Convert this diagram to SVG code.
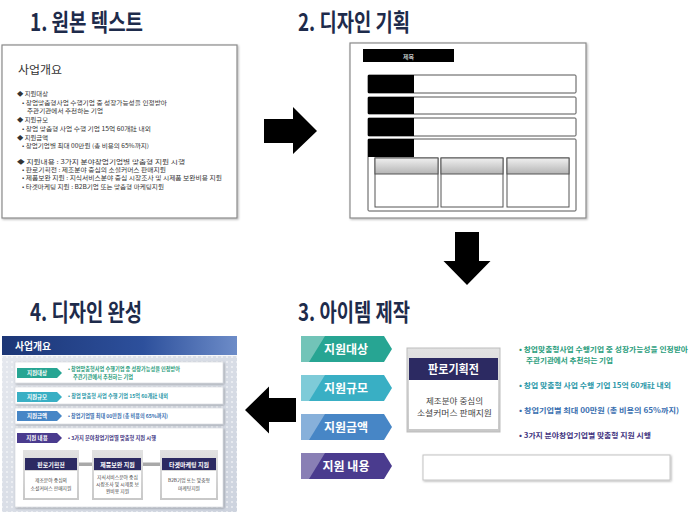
<svg xmlns="http://www.w3.org/2000/svg" width="694" height="512" viewBox="0 0 694 512">
<defs>
<style>
text{font-family:"Noto Sans CJK KR","Noto Sans",sans-serif}
.title{font-size:24px;font-weight:700;fill:#1e2b4b}
.p1{font-size:5.8px;fill:#333}
.frame{fill:#fff;stroke:#8a8a8a;stroke-width:1.2}
.row{fill:#fff;stroke:#555;stroke-width:1}
.blk{fill:#000}
.arrow{fill:#000}
.tagtxt{font-size:12px;font-weight:700;fill:#fff}
.stag{font-size:5.5px;font-weight:700;fill:#fff}
.rt{font-size:7.2px;font-weight:700}
.st{font-size:5.3px;font-weight:700}
.sbody{font-size:4.8px;fill:#444}
.shdr{font-size:6px;font-weight:700;fill:#fff}
.srow{fill:#fff;stroke:#cfd3da;stroke-width:0.6}
.hl{fill:#fff;opacity:0.35}
</style>
<linearGradient id="grayHdr" x1="0" y1="0" x2="0" y2="1"><stop offset="0" stop-color="#f0f0f0"/><stop offset="1" stop-color="#b4b4b4"/></linearGradient>
<linearGradient id="blueHdr" x1="0" y1="0" x2="1" y2="0"><stop offset="0" stop-color="#1c3676"/><stop offset="0.6" stop-color="#2d509c"/><stop offset="1" stop-color="#6d8cc8"/></linearGradient>
<linearGradient id="panelBg" x1="0" y1="0" x2="1" y2="1"><stop offset="0" stop-color="#e6e9ef"/><stop offset="1" stop-color="#cdd3de"/></linearGradient>
<linearGradient id="cardBg" x1="0" y1="0" x2="0" y2="1"><stop offset="0" stop-color="#e2e2e2"/><stop offset="1" stop-color="#c8c8c8"/></linearGradient>
<pattern id="dots" width="5" height="5" patternUnits="userSpaceOnUse"><rect x="1" y="1" width="2" height="2" fill="#fff" opacity="0.45"/></pattern>
<filter id="sh" x="-10%" y="-10%" width="130%" height="130%"><feDropShadow dx="1" dy="1" stdDeviation="1" flood-color="#000" flood-opacity="0.3"/></filter>
<path id="tagBig" d="M0,0 H83 L91,13 L83,26 H0 Z"/>
<path id="tagBigHl" d="M0,0 H24 L8,26 H0 Z"/>
<path id="tagSmall" d="M0,0 H40 L45,5 L40,10 H0 Z"/>
</defs>

<rect width="694" height="512" fill="#fff"/>

<g id="titles">
<text class="title" x="30" y="31" textLength="113" lengthAdjust="spacingAndGlyphs">1. 원본 텍스트</text>
<text class="title" x="298" y="31" textLength="112" lengthAdjust="spacingAndGlyphs">2. 디자인 기획</text>
<text class="title" x="30" y="321" textLength="112" lengthAdjust="spacingAndGlyphs">4. 디자인 완성</text>
<text class="title" x="298" y="321" textLength="112" lengthAdjust="spacingAndGlyphs">3. 아이템 제작</text>
</g>

<g id="original-text">
<rect class="frame" x="2" y="45" width="235" height="173" filter="url(#sh)"/>
<text x="18" y="74" font-size="11" fill="#333" textLength="44" lengthAdjust="spacingAndGlyphs">사업개요</text>
<text class="p1" x="17" y="95.5" textLength="31" lengthAdjust="spacingAndGlyphs">◆ 지원대상</text>
<text class="p1" x="22" y="104.5" textLength="145" lengthAdjust="spacingAndGlyphs">• 창업맞춤형사업 수행기업 중 성장가능성을 인정받아</text>
<text class="p1" x="27" y="113" textLength="76" lengthAdjust="spacingAndGlyphs">주관기관에서 추천하는 기업</text>
<text class="p1" x="17" y="121.5" textLength="31" lengthAdjust="spacingAndGlyphs">◆ 지원규모</text>
<text class="p1" x="22" y="130.5" textLength="129" lengthAdjust="spacingAndGlyphs">• 창업 맞춤형 사업 수행 기업 15억 60개社 내외</text>
<text class="p1" x="17" y="139.5" textLength="31" lengthAdjust="spacingAndGlyphs">◆ 지원금액</text>
<text class="p1" x="22" y="147.5" textLength="127" lengthAdjust="spacingAndGlyphs">• 창업기업별 최대 00만원 (총 비용의 65%까지)</text>
<text class="p1" x="17" y="163.5" textLength="168" lengthAdjust="spacingAndGlyphs">◆ 지원내용 : 3가지 분야창업기업별 맞춤형 지원 시행</text>
<text class="p1" x="22" y="171.5" textLength="144" lengthAdjust="spacingAndGlyphs">• 판로기획전 : 제조분야 중심의 소셜커머스 판매지원</text>
<text class="p1" x="22" y="180" textLength="200" lengthAdjust="spacingAndGlyphs">• 제품보완 지원 : 지식서비스분야 중심 시장조사 및 시제품 보완비용 지원</text>
<text class="p1" x="22" y="189" textLength="142" lengthAdjust="spacingAndGlyphs">• 타겟마케팅 지원 : B2B기업 또는 맞춤형 마케팅지원</text>
</g>

<g id="design-plan">
<rect class="frame" x="350" y="43" width="236" height="175" filter="url(#sh)"/>
<rect class="blk" x="363" y="49" width="91" height="13"/>
<text x="408.5" y="58.5" font-size="6" fill="#fff" text-anchor="middle">제목</text>
<rect class="row" x="368" y="75" width="208" height="18" rx="1"/>
<rect class="blk" x="368" y="75" width="46" height="18"/>
<rect class="row" x="368" y="97" width="208" height="17" rx="1"/>
<rect class="blk" x="368" y="97" width="46" height="17"/>
<rect class="row" x="368" y="118" width="208" height="18" rx="1"/>
<rect class="blk" x="368" y="118" width="46" height="18"/>
<rect class="row" x="368" y="139" width="208" height="72" rx="1"/>
<rect class="blk" x="368" y="139" width="46" height="18"/>
<rect x="375" y="158" width="63" height="49" fill="#fff" stroke="#555"/>
<rect x="375" y="158" width="63" height="16" fill="url(#grayHdr)" stroke="#555"/>
<rect x="441" y="158" width="62" height="49" fill="#fff" stroke="#555"/>
<rect x="441" y="158" width="62" height="16" fill="url(#grayHdr)" stroke="#555"/>
<rect x="507" y="158" width="62" height="49" fill="#fff" stroke="#555"/>
<rect x="507" y="158" width="62" height="16" fill="url(#grayHdr)" stroke="#555"/>
</g>

<g id="items">
<g id="tag1"><use href="#tagBig" x="301" y="336" fill="#27a593"/><use href="#tagBigHl" x="301" y="336" class="hl"/><text class="tagtxt" x="346" y="353.5" text-anchor="middle">지원대상</text></g>
<g id="tag2"><use href="#tagBig" x="301" y="375" fill="#39afc4"/><use href="#tagBigHl" x="301" y="375" class="hl"/><text class="tagtxt" x="346" y="392.5" text-anchor="middle">지원규모</text></g>
<g id="tag3"><use href="#tagBig" x="301" y="414" fill="#4786c6"/><use href="#tagBigHl" x="301" y="414" class="hl"/><text class="tagtxt" x="346" y="431.5" text-anchor="middle">지원금액</text></g>
<g id="tag4"><use href="#tagBig" x="301" y="453" fill="#4a3b8e"/><use href="#tagBigHl" x="301" y="453" class="hl"/><text class="tagtxt" x="346" y="470.5" text-anchor="middle">지원 내용</text></g>
<g id="card">
<rect x="407" y="348" width="93" height="84" fill="url(#cardBg)" stroke="#bdbdbd"/>
<rect x="409" y="358" width="89" height="22" fill="#2c2a62"/>
<text x="453.5" y="373.5" font-size="12" font-weight="700" fill="#fff" text-anchor="middle" textLength="51" lengthAdjust="spacingAndGlyphs">판로기획전</text>
<rect x="409" y="380" width="89" height="49" fill="#fff"/>
<text x="454.5" y="403.5" font-size="8.2" fill="#444" text-anchor="middle" textLength="57" lengthAdjust="spacingAndGlyphs">제조분야 중심의</text>
<text x="454.5" y="416" font-size="8.2" fill="#444" text-anchor="middle" textLength="75" lengthAdjust="spacingAndGlyphs">소셜커머스 판매지원</text>
</g>
<g id="item-texts">
<text class="rt" x="519" y="352" fill="#2a9d7c" textLength="169" lengthAdjust="spacingAndGlyphs">• 창업맞춤형사업 수행기업 중 성장가능성을 인정받아</text>
<text class="rt" x="526" y="363" fill="#2a9d7c" textLength="87" lengthAdjust="spacingAndGlyphs">주관기관에서 추천하는 기업</text>
<text class="rt" x="519" y="387.5" fill="#2a97a8" textLength="152" lengthAdjust="spacingAndGlyphs">• 창업 맞춤형 사업 수행 기업 15억 60개社 내외</text>
<text class="rt" x="519" y="412.5" fill="#3a6fb0" textLength="160" lengthAdjust="spacingAndGlyphs">• 창업기업별 최대 00만원 (총 비용의 65%까지)</text>
<text class="rt" x="519" y="437.5" fill="#43357f" textLength="132" lengthAdjust="spacingAndGlyphs">• 3가지 분야창업기업별 맞춤형 지원 시행</text>
</g>
<rect id="input-box" x="423" y="455" width="247" height="25" fill="#fff" stroke="#c4c4c4" filter="url(#sh)"/>
</g>

<g id="final-design">
<rect x="2" y="336" width="235" height="176" fill="url(#panelBg)"/>
<rect x="2" y="336" width="235" height="176" fill="url(#dots)"/>
<rect x="2" y="336" width="235" height="19" fill="url(#blueHdr)"/>
<rect x="2" y="355" width="235" height="1" fill="#fff" opacity="0.8"/>
<text x="15" y="349.5" font-size="10" font-weight="700" fill="#fff" textLength="36" lengthAdjust="spacingAndGlyphs">사업개요</text>

<rect class="srow" x="15" y="362" width="208" height="21" filter="url(#sh)"/>
<use href="#tagSmall" x="17" y="368" fill="#27a593"/>
<text class="stag" x="37" y="375" text-anchor="middle">지원대상</text>
<text class="st" x="68" y="371" fill="#2a9d7c" textLength="112" lengthAdjust="spacingAndGlyphs">• 창업맞춤형사업 수행기업 중 성장가능성을 인정받아</text>
<text class="st" x="73" y="379" fill="#2a9d7c" textLength="60" lengthAdjust="spacingAndGlyphs">주관기관에서 추천하는 기업</text>

<rect class="srow" x="15" y="387" width="208" height="17" filter="url(#sh)"/>
<use href="#tagSmall" x="17" y="392" fill="#39afc4"/>
<text class="stag" x="37" y="399" text-anchor="middle">지원규모</text>
<text class="st" x="68" y="398" fill="#2a97a8" textLength="100" lengthAdjust="spacingAndGlyphs">• 창업 맞춤형 사업 수행 기업 15억 60개社 내외</text>

<rect class="srow" x="15" y="408" width="208" height="16" filter="url(#sh)"/>
<use href="#tagSmall" x="17" y="411" fill="#4786c6"/>
<text class="stag" x="37" y="418" text-anchor="middle">지원금액</text>
<text class="st" x="68" y="418" fill="#3a6fb0" textLength="100" lengthAdjust="spacingAndGlyphs">• 창업기업별 최대 00만원 (총 비용의 65%까지)</text>

<rect class="srow" x="15" y="428" width="208" height="79" filter="url(#sh)"/>
<use href="#tagSmall" x="17" y="433" fill="#4a3b8e"/>
<text class="stag" x="37" y="440" text-anchor="middle">지원 내용</text>
<text class="st" x="68" y="440" fill="#43357f" textLength="88" lengthAdjust="spacingAndGlyphs">• 3가지 분야창업기업별 맞춤형 지원 시행</text>

<rect x="79" y="462.5" width="14" height="3.5" fill="#a9a9a9"/>
<rect x="143" y="462.5" width="17" height="3.5" fill="#a9a9a9"/>

<rect x="23" y="450" width="56" height="50" fill="url(#cardBg)"/>
<rect x="25" y="458" width="52" height="12" fill="#2c2a62"/>
<text class="shdr" x="51" y="466.5" text-anchor="middle">판로기획전</text>
<rect x="25" y="471" width="52" height="27" fill="#fff"/>
<text class="sbody" x="51" y="482" text-anchor="middle">제조분야 중심의</text>
<text class="sbody" x="51" y="490" text-anchor="middle">소셜커머스 판매지원</text>

<rect x="92" y="450" width="51" height="50" fill="url(#cardBg)"/>
<rect x="94" y="458" width="47" height="12" fill="#2c2a62"/>
<text class="shdr" x="117.5" y="466.5" text-anchor="middle">제품보완 지원</text>
<rect x="94" y="471" width="47" height="27" fill="#fff"/>
<text class="sbody" x="117.5" y="479" text-anchor="middle">지식서비스분야 중심</text>
<text class="sbody" x="117.5" y="486" text-anchor="middle">시장조사 및 시제품 보</text>
<text class="sbody" x="117.5" y="493" text-anchor="middle">완비용 지원</text>

<rect x="160" y="450" width="58" height="50" fill="url(#cardBg)"/>
<rect x="162" y="458" width="54" height="12" fill="#2c2a62"/>
<text class="shdr" x="189" y="466.5" text-anchor="middle">타겟마케팅 지원</text>
<rect x="162" y="471" width="54" height="27" fill="#fff"/>
<text class="sbody" x="189" y="482" text-anchor="middle">B2B기업 또는 맞춤형</text>
<text class="sbody" x="189" y="490" text-anchor="middle">마케팅지원</text>
</g>

<g id="connectors">
<polygon class="arrow" points="264,119 293,119 293,107 317,131 293,154 293,143 264,143"/>
<polygon class="arrow" points="455,232 479,232 479,261 490.5,261 467,285 443.5,261 455,261"/>
<polygon class="arrow" points="296,398 269,398 269,386.5 245,410 269,433.5 269,422 296,422"/>
</g>
</svg>
